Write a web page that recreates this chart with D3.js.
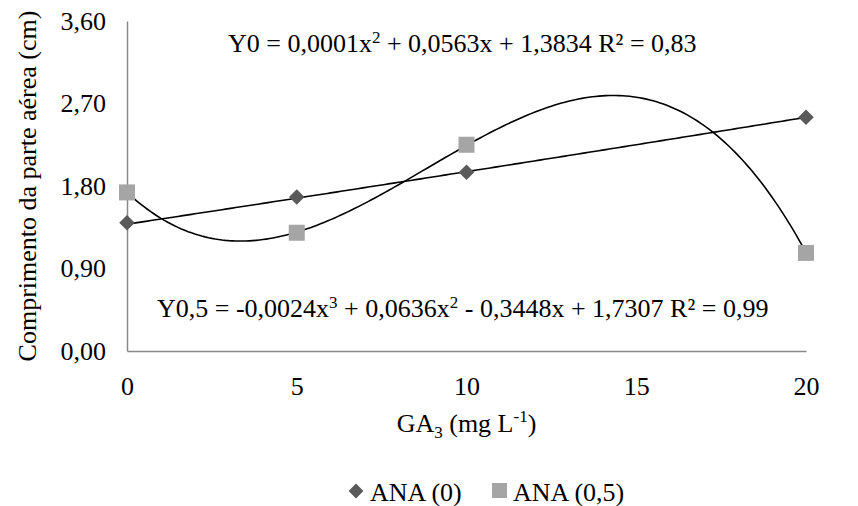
<!DOCTYPE html>
<html>
<head>
<meta charset="utf-8">
<script src="https://cdn.jsdelivr.net/npm/d3@7"></script>
</head>
<body style="margin:0">
<script>
    // data
    var doses = [0, 5, 10, 20];
    var ana0 = [1.40, 1.68, 1.95, 2.55];
    var ana05 = [1.73, 1.29, 2.25, 1.07];
    var yTicks = [0, 0.9, 1.8, 2.7, 3.6];
    var xTicks = [0, 5, 10, 15, 20];
    // trendline coefficients as printed (constant first)
    var fit0 = [1.3834, 0.0563, 0.0001];
    var fit05 = [1.7307, -0.3448, 0.0636, -0.0024];

    var w = 858, h = 506;
    var plot = { left: 127, right: 806, top: 21, bottom: 351 };
    var face = "Times New Roman";

    var svg = d3.select("body").append("svg")
        .attr("width", w).attr("height", h);

    function label(sel, size) {
        return sel.style("font-family", "'" + face + "'").style("font-size", size + "px").attr("fill", "#000");
    }

    var x = d3.scaleLinear().domain([0, 20]).range([plot.left, plot.right]);
    var y = d3.scaleLinear().domain([0, 3.6]).range([plot.bottom, plot.top]);

    var fmt = d => d.toFixed(2).replace(".", ",");

    // axes
    var yAxis = svg.append("g").attr("transform", "translate(" + plot.left + ",0)")
        .call(d3.axisLeft(y).tickValues(yTicks).tickSize(0).tickPadding(21).tickFormat(fmt));
    var xAxis = svg.append("g").attr("transform", "translate(0," + plot.bottom + ")")
        .call(d3.axisBottom(x).tickValues(xTicks).tickSize(0).tickPadding(26).tickFormat(d => d));
    [xAxis, yAxis].forEach(a => {
        a.select(".domain").attr("stroke", "#898989").attr("stroke-width", 1.5);
        label(a.selectAll("text"), 26);
    });

    // trend lines
    function poly(c) {
        return t => c.reduce((s, k, i) => s + k * Math.pow(t, i), 0);
    }
    var steps = d3.range(0, 20.01, 0.1);
    var line = d3.line().x(d => x(d[0])).y(d => y(d[1]));
    [fit0, fit05].forEach(c => {
        var f = poly(c);
        svg.append("path").datum(steps.map(t => [t, f(t)]))
            .attr("d", line).attr("fill", "none")
            .attr("stroke", "#000").attr("stroke-width", 1.6);
    });

    // markers
    var sq = 16;
    svg.selectAll(".sq").data(ana05).enter().append("rect")
        .attr("x", (d, i) => x(doses[i]) - sq / 2)
        .attr("y", d => y(d) - sq / 2)
        .attr("width", sq).attr("height", sq)
        .attr("fill", "#a5a5a5");
    var dm = d3.symbol().type(d3.symbolSquare).size(120);
    svg.selectAll(".dm").data(ana0).enter().append("path")
        .attr("d", dm)
        .attr("transform", (d, i) => "translate(" + [x(doses[i]), y(d)] + ") rotate(45)")
        .attr("fill", "#5a5a5a");

    // equations
    var eq1 = label(svg.append("text").attr("x", 228).attr("y", 52), 26);
    eq1.append("tspan").text("Y0 = 0,0001x");
    eq1.append("tspan").text("2").attr("dy", -9).style("font-size", "17px");
    eq1.append("tspan").text(" + 0,0563x + 1,3834 R² = 0,83").attr("dy", 9);

    var eq2 = label(svg.append("text").attr("x", 157).attr("y", 317), 26);
    eq2.append("tspan").text("Y0,5 = -0,0024x");
    eq2.append("tspan").text("3").attr("dy", -9).style("font-size", "17px");
    eq2.append("tspan").text(" + 0,0636x").attr("dy", 9);
    eq2.append("tspan").text("2").attr("dy", -9).style("font-size", "17px");
    eq2.append("tspan").text(" - 0,3448x + 1,7307 R² = 0,99").attr("dy", 9);

    // axis titles
    label(svg.append("text"), 26)
        .attr("transform", "translate(36," + (plot.top + plot.bottom) / 2 + ") rotate(-90)")
        .attr("text-anchor", "middle")
        .text("Comprimento da parte aérea (cm)");

    var xt = label(svg.append("text"), 26).attr("x", (plot.left + plot.right) / 2).attr("y", 432)
        .attr("text-anchor", "middle");
    xt.append("tspan").text("GA");
    xt.append("tspan").text("3").attr("dy", 6).style("font-size", "17px");
    xt.append("tspan").text(" (mg L").attr("dy", -6);
    xt.append("tspan").text("-1").attr("dy", -10).style("font-size", "17px");
    xt.append("tspan").text(")").attr("dy", 10);

    // legend
    var lg = svg.append("g");
    lg.append("path").attr("d", d3.symbol().type(d3.symbolSquare).size(110))
        .attr("transform", "translate(356,491) rotate(45)").attr("fill", "#5a5a5a");
    label(lg.append("text"), 26).attr("x", 370).attr("y", 501).text("ANA (0)");
    lg.append("rect").attr("x", 492).attr("y", 483).attr("width", 15).attr("height", 15).attr("fill", "#a5a5a5");
    label(lg.append("text"), 26).attr("x", 513).attr("y", 501).text("ANA (0,5)");
</script>
</body>
</html>
